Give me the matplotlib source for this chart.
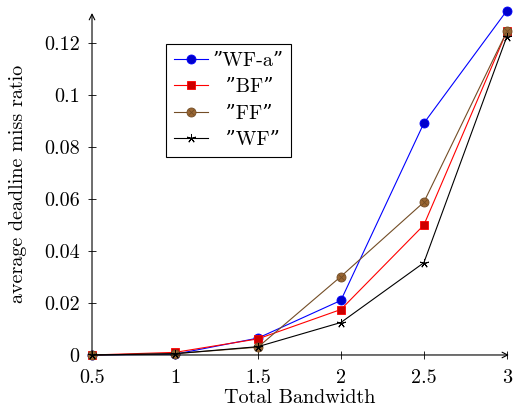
import matplotlib
matplotlib.use("Agg")
import matplotlib.pyplot as plt
from matplotlib.legend_handler import HandlerTuple

plt.rcParams['font.family'] = ['cmr10', 'DejaVu Serif']
plt.rcParams['mathtext.fontset'] = 'cm'
plt.rcParams['axes.formatter.use_mathtext'] = True

x = [0.5, 1, 1.5, 2, 2.5, 3]
wfa = [0.0, 0.0003, 0.0065, 0.021, 0.0892, 0.1325]
bf = [0.0, 0.001, 0.0062, 0.0175, 0.050, 0.1245]
ff = [0.0, 0.0005, 0.003, 0.0302, 0.0588, 0.1245]
wf = [0.0, 0.0005, 0.0032, 0.0125, 0.0355, 0.1225]
labels = ['\u201dWF-a\u201d', '  \u201dBF\u201d', '  \u201dFF\u201d', '  \u201dWF\u201d']
xticks = [0.5, 1, 1.5, 2, 2.5, 3]
xticklabels = ['0.5', '1', '1.5', '2', '2.5', '3']
yticks = [0, 0.02, 0.04, 0.06, 0.08, 0.1, 0.12]
yticklabels = ['0', '0.02', '0.04', '0.06', '0.08', '0.1', '0.12']

fig = plt.figure(figsize=(5.14, 4.11), dpi=100)
ax = fig.add_axes([0.179, 0.1363, 0.807, 0.832])

fs = 14.5
lw = 0.8
ms = 6.5
h1, = ax.plot(x, wfa, color=(0, 0, 1), lw=lw, marker='o', ms=ms,
              mfc=(0, 0, 0.8), mec=(0, 0, 1), mew=0.6, clip_on=False, zorder=3)
h2, = ax.plot(x, bf, color=(1, 0, 0), lw=lw, marker='s', ms=ms - 0.5,
              mfc=(0.8, 0, 0), mec=(1, 0, 0), mew=0.6, clip_on=False, zorder=3)
brown = (0.45, 0.3, 0.15)
h3, = ax.plot(x, ff, color=brown, lw=lw, marker='o', ms=ms,
              mfc=(0.6, 0.4, 0.2), mec=brown, mew=0.6, clip_on=False, zorder=3)
h3x, = ax.plot(x, ff, color=brown, lw=0, marker='x', ms=ms * 0.7,
               mec=brown, mew=0.6, clip_on=False, zorder=3.1)
h4, = ax.plot(x, wf, color='black', lw=lw, marker=(5, 2, 0), ms=ms,
              mec='black', mew=0.7, clip_on=False, zorder=3.2)

ax.set_xlim(0.5, 3)
ax.set_ylim(0, 0.1316)
ax.set_xticks(xticks)
ax.set_xticklabels(xticklabels)
ax.set_yticks(yticks)
ax.set_yticklabels(yticklabels)
ax.tick_params(direction='inout', length=6, width=0.6, labelsize=fs)
ax.tick_params(axis='x', pad=7)
ax.tick_params(axis='y', pad=6)

for s in ['top', 'right', 'left', 'bottom']:
    ax.spines[s].set_visible(False)
ax.annotate('', xy=(1.005, 0), xytext=(0, 0), xycoords='axes fraction',
            arrowprops=dict(arrowstyle='->', lw=0.8, color='black',
                            shrinkA=0, shrinkB=0))
ax.annotate('', xy=(0, 1.0), xytext=(0, 0), xycoords='axes fraction',
            arrowprops=dict(arrowstyle='->', lw=0.8, color='black',
                            shrinkA=0, shrinkB=0))

ax.set_xlabel('Total Bandwidth', fontsize=fs, labelpad=2)
ax.set_ylabel('average deadline miss ratio', fontsize=fs, labelpad=12)

leg = ax.legend([h1, h2, (h3, h3x), h4], labels,
                handler_map={tuple: HandlerTuple(ndivide=1, pad=0)},
                loc='upper left', bbox_to_anchor=(0.178, 0.909),
                fontsize=fs, frameon=True, fancybox=False, edgecolor='black',
                framealpha=1, borderpad=0.4, labelspacing=0.4,
                handlelength=1.7, handletextpad=0.2, borderaxespad=0)
leg.get_frame().set_linewidth(0.8)

fig.savefig('out.png', dpi=100)
